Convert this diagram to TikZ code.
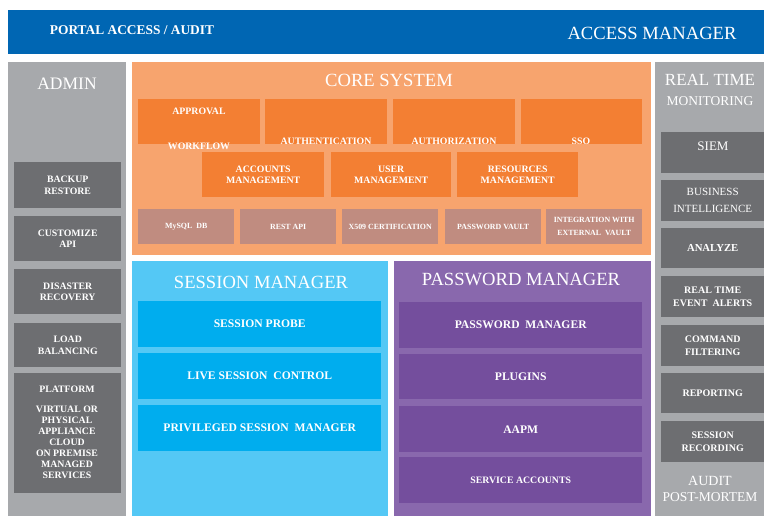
\documentclass[tikz,border=0pt]{standalone}
\usepackage{fontspec}
\setmainfont{Liberation Serif}
\definecolor{pblue}   {RGB}{0,102,179}
\definecolor{agrey}   {RGB}{167,169,172}
\definecolor{dgrey}   {RGB}{109,110,113}
\definecolor{corange} {RGB}{247,164,110}
\definecolor{korange} {RGB}{243,127,51}
\definecolor{krose}   {RGB}{192,140,128}
\definecolor{slblue}  {RGB}{84,200,245}
\definecolor{sblue}   {RGB}{0,173,238}
\definecolor{plpurple}{RGB}{137,104,173}
\definecolor{ppurple} {RGB}{116,78,157}
\tikzset{
    panel/.style={inner sep=0, anchor=north west},
    sz/.style 2 args={minimum width=#1pt, minimum height=#2pt},
    blk/.style={inner sep=0, anchor=north west, text=white, align=center,
             font=\bfseries\fontsize{9.8}{11.5}\selectfont},
    txt/.style={inner sep=0, text=white, align=center,
             font=\bfseries\fontsize{9.8}{11}\selectfont},
    ttl/.style={inner sep=0, text=white, font=\fontsize{18.6}{20}\selectfont},
    smalltxt/.style={font=\bfseries\fontsize{7.9}{13}\selectfont},
    bigtxt/.style={font=\bfseries\fontsize{11.6}{13}\selectfont},
    rtxt/.style={font=\bfseries\fontsize{10}{13.5}\selectfont}
  }

\begin{document}
\begin{tikzpicture}[x=1pt, y=-1pt]
 \useasboundingbox (0,0) rectangle (764,516);
 %Top bar
     \node[panel, fill=pblue, sz={756}{44}] (bar) at (8,10) {};
     \node[ttl, font=\bfseries\fontsize{13.4}{15}\selectfont] (portal) at (132,30) {PORTAL ACCESS / AUDIT};
     \node[ttl] (accman) at (652,33) {ACCESS MANAGER};
 %Admin column
     \node[panel, fill=agrey, sz={118}{454}] (admin) at (8,62) {};
     \node[ttl, font=\fontsize{17.5}{19}\selectfont] (adminT) at (67,84) {ADMIN};
     \node[blk, fill=dgrey, sz={107}{46}] (backup) at (14,162) {BACKUP\\RESTORE};
     \node[blk, fill=dgrey, sz={107}{45}] (custom) at (14,216) {CUSTOMIZE\\API};
     \node[blk, fill=dgrey, sz={107}{45}] (disaster) at (14,269) {DISASTER\\RECOVERY};
     \node[blk, fill=dgrey, sz={107}{44}] (load) at (14,323) {LOAD\\BALANCING};
     \node[blk, fill=dgrey, sz={107}{120}] (platform) at (14,373) {};
     \node[txt] (platT) at (67,389) {PLATFORM};
     \node[txt] (platL) at (67,442) {VIRTUAL OR\\PHYSICAL\\APPLIANCE\\CLOUD\\ON PREMISE\\MANAGED\\SERVICES};
 %Core system
     \node[panel, fill=corange, sz={519}{193}] (core) at (132,62) {};
     \node[ttl] (coreT) at (389,80) {CORE SYSTEM};
     \node[blk, fill=korange, sz={122}{45}] (approval) at (138,99) {};
     \node[blk, fill=korange, sz={122}{45}] (authn) at (265,99) {};
     \node[blk, fill=korange, sz={122}{45}] (authz) at (393,99) {};
     \node[blk, fill=korange, sz={121}{45}] (sso) at (521,99) {};
     \node[txt] (approvalT) at (199,111) {APPROVAL};
     \node[txt] (workflowT) at (199,146) {WORKFLOW};
     \node[txt] (authnT) at (326,141) {AUTHENTICATION};
     \node[txt] (authzT) at (454,141) {AUTHORIZATION};
     \node[txt] (ssoT) at (581,141) {SSO};
     \node[blk, fill=korange, sz={122}{45}] (accounts) at (202,152) {ACCOUNTS\\MANAGEMENT};
     \node[blk, fill=korange, sz={120}{45}] (users) at (331,152) {USER\\MANAGEMENT};
     \node[blk, fill=korange, sz={121}{45}] (resources) at (457,152) {RESOURCES\\MANAGEMENT};
     \node[blk, smalltxt, fill=krose, sz={96}{35}] (mysql) at (138,209) {MySQL\ \ DB};
     \node[blk, smalltxt, fill=krose, sz={96}{35}] (rest) at (240,209) {REST API};
     \node[blk, smalltxt, fill=krose, sz={96}{35}] (x509) at (342,209) {X509 CERTIFICATION};
     \node[blk, smalltxt, fill=krose, sz={96}{35}] (vault) at (445,209) {PASSWORD VAULT};
     \node[blk, smalltxt, fill=krose, sz={96}{35}] (extvault) at (546,209) {INTEGRATION WITH\\EXTERNAL\ \ VAULT};
 %Session manager
     \node[panel, fill=slblue, sz={256}{255}] (sess) at (132,261) {};
     \node[ttl] (sessT) at (261,282) {SESSION MANAGER};
     \node[blk, bigtxt, fill=sblue, sz={243}{46}] (probe) at (138,301) {SESSION PROBE};
     \node[blk, bigtxt, fill=sblue, sz={243}{46}] (live) at (138,353) {LIVE SESSION\ \ CONTROL};
     \node[blk, bigtxt, fill=sblue, sz={243}{46}] (psm) at (138,405) {PRIVILEGED SESSION\ \ MANAGER};
 %Password manager
     \node[panel, fill=plpurple, sz={257}{255}] (pass) at (394,261) {};
     \node[ttl] (passT) at (521,279) {PASSWORD MANAGER};
     \node[blk, bigtxt, fill=ppurple, sz={243}{46}] (pwm) at (399,302) {PASSWORD\ \ MANAGER};
     \node[blk, bigtxt, fill=ppurple, sz={243}{45}] (plugins) at (399,354) {PLUGINS};
     \node[blk, bigtxt, fill=ppurple, sz={243}{46}] (aapm) at (399,406) {AAPM};
     \node[blk, fill=ppurple, sz={243}{46}] (svc) at (399,457) {SERVICE ACCOUNTS};
 %Real time monitoring
     \node[panel, fill=agrey, sz={109}{454}] (rt) at (655,62) {};
     \node[ttl, font=\fontsize{17}{19}\selectfont] (rtT) at (710,80) {REAL TIME};
     \node[ttl, font=\fontsize{13.5}{15}\selectfont] (monT) at (710,101) {MONITORING};
     \node[blk, fill=dgrey, sz={103}{41}] (siem) at (661,132) {};
     \node[ttl, font=\fontsize{13}{15}\selectfont] (siemT) at (713,146) {SIEM};
     \node[blk, fill=dgrey, sz={103}{41}, font=\fontsize{11}{17}\selectfont] (bi) at (661,180) {BUSINESS\\INTELLIGENCE};
     \node[blk, fill=dgrey, sz={103}{40}, font=\bfseries\fontsize{10.7}{13}\selectfont] (analyze) at (661,228) {ANALYZE};
     \node[blk, rtxt, fill=dgrey, sz={103}{41}] (alerts) at (661,276) {REAL TIME\\EVENT\ \ ALERTS};
     \node[blk, rtxt, fill=dgrey, sz={103}{41}] (filter) at (661,325) {COMMAND\\FILTERING};
     \node[blk, rtxt, fill=dgrey, sz={103}{40}] (report) at (661,373) {REPORTING};
     \node[blk, rtxt, fill=dgrey, sz={103}{41}] (record) at (661,421) {SESSION\\RECORDING};
     \node[ttl, font=\fontsize{14}{16}\selectfont] (auditT) at (710,481) {AUDIT};
     \node[ttl, font=\fontsize{13.5}{15}\selectfont] (pmT) at (710,497) {POST-MORTEM};
 \end{tikzpicture}
\end{document}
